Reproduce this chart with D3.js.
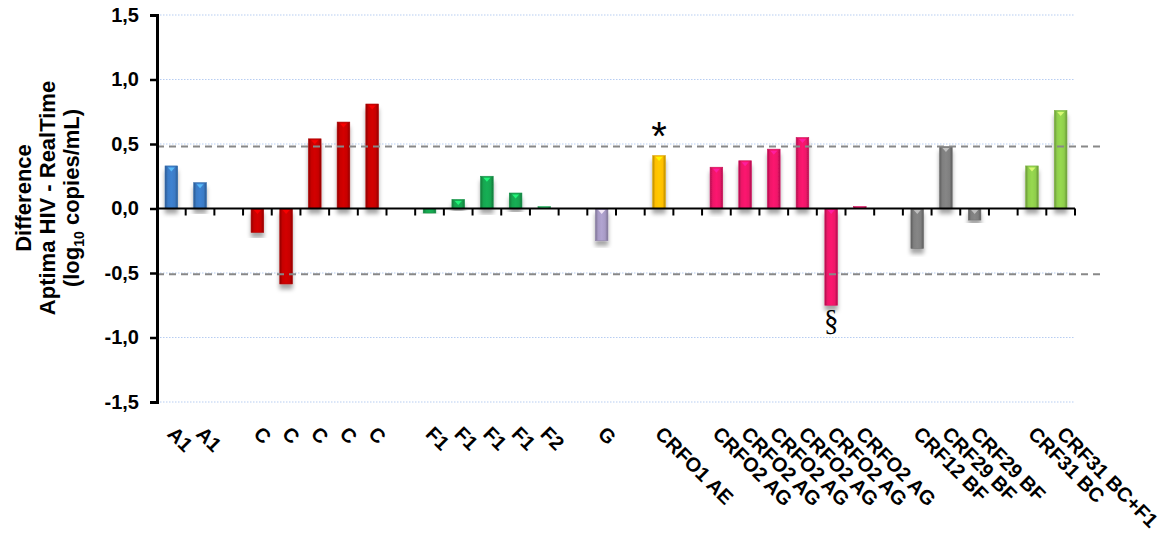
<!DOCTYPE html>
<html>
<head>
<meta charset="utf-8">
<script src="https://cdn.jsdelivr.net/npm/d3@7"></script>
<style>
  html, body { margin: 0; padding: 0; background: #fff; }
  svg { display: block; }
</style>
</head>
<body>
<svg id="chart" width="1165" height="535"></svg>
<script>
// Subtype of each sample; empty strings are spacer slots between subtype groups
const categories = [
  "A1", "A1", "",
  "C", "C", "C", "C", "C", "",
  "F1", "F1", "F1", "F1", "F2", "",
  "G", "",
  "CRFO1 AE", "",
  "CRFO2 AG", "CRFO2 AG", "CRFO2 AG", "CRFO2 AG", "CRFO2 AG", "CRFO2 AG", "",
  "CRF12 BF", "CRF29 BF", "CRF29 BF", "",
  "CRF31 BC", "CRF31 BC+F1"
];

// Difference Aptima HIV - RealTime (log10 copies/mL); null for spacer slots
const differences = [
  0.33, 0.20, null,
  -0.185, -0.585, 0.54, 0.67, 0.81, null,
  -0.035, 0.07, 0.25, 0.12, 0.015, null,
  -0.25, null,
  0.41, null,
  0.32, 0.37, 0.46, 0.55, -0.75, 0.015, null,
  -0.31, 0.48, -0.09, null,
  0.33, 0.76
];

// Bar colour per subtype
const subtypeColors = {
  "A1": "#3b7bc6",
  "C": "#c80000",
  "F1": "#17a650",
  "F2": "#2fc46c",
  "G": "#a89bc6",
  "CRFO1 AE": "#ffbf00",
  "CRFO2 AG": "#ef1469",
  "CRF12 BF": "#7f7f7f",
  "CRF29 BF": "#7f7f7f",
  "CRF31 BC": "#8fce4c",
  "CRF31 BC+F1": "#8fce4c"
};

const yTickValues = [1.5, 1.0, 0.5, 0.0, -0.5, -1.0, -1.5];
const yTickLabels = ["1,5", "1,0", "0,5", "0,0", "-0,5", "-1,0", "-1,5"];
const gridValues = [1.5, 1.0, 0.5, -0.5, -1.0, -1.5];
const referenceLines = [0.48, -0.51];

// Markers placed next to individual samples: slot index and symbol
const annotations = [
  { index: 17, symbol: "*" },
  { index: 23, symbol: "§" }
];

const svg = d3.select("#chart");
const plotLeft = 157, plotRight = 1075, plotTop = 15, plotBottom = 402;

const x = d3.scaleBand()
  .domain(d3.range(categories.length))
  .range([plotLeft, plotRight])
  .paddingInner(0.56)
  .paddingOuter(0.28);

const y = d3.scaleLinear().domain([-1.5, 1.5]).range([plotBottom, plotTop]);

const defs = svg.append("defs");

// soft drop shadow beneath each bar
const shadow = defs.append("filter").attr("id", "barShadow")
  .attr("x", "-50%").attr("y", "-20%").attr("width", "200%").attr("height", "140%");
shadow.append("feDropShadow")
  .attr("dx", 0).attr("dy", 5).attr("stdDeviation", 2)
  .attr("flood-color", "#000").attr("flood-opacity", 0.35);

// glossy horizontal gradient per subtype
const gradientId = {};
Object.entries(subtypeColors).forEach(([key, base], i) => {
  const id = "grad" + i;
  gradientId[key] = id;
  const c = d3.color(base);
  const g = defs.append("linearGradient").attr("id", id)
    .attr("x1", "0%").attr("x2", "100%").attr("y1", "0%").attr("y2", "0%");
  g.append("stop").attr("offset", "0%").attr("stop-color", c.darker(0.9));
  g.append("stop").attr("offset", "22%").attr("stop-color", c);
  g.append("stop").attr("offset", "50%").attr("stop-color", c.brighter(0.15));
  g.append("stop").attr("offset", "78%").attr("stop-color", c);
  g.append("stop").attr("offset", "100%").attr("stop-color", c.darker(0.9));
});

// dotted light-blue gridlines
svg.append("g").selectAll("line").data(gridValues).join("line")
  .attr("x1", plotLeft).attr("x2", plotRight)
  .attr("y1", d => y(d)).attr("y2", d => y(d))
  .attr("stroke", "#b7cdf2").attr("stroke-width", 1.2)
  .attr("stroke-dasharray", "1.5,1.5");

const bars = categories.map((c, i) => ({ c, v: differences[i], i }))
  .filter(d => d.v !== null);

// bars
const barG = svg.append("g");
barG.selectAll("rect").data(bars).join("rect")
  .attr("x", d => x(d.i))
  .attr("width", x.bandwidth())
  .attr("y", d => y(Math.max(0, d.v)))
  .attr("height", d => Math.max(1.5, Math.abs(y(d.v) - y(0))))
  .attr("fill", d => `url(#${gradientId[d.c]})`)
  .attr("stroke", d => d3.color(subtypeColors[d.c]).darker(0.4))
  .attr("stroke-width", 0.6)
  .attr("filter", "url(#barShadow)");

// small light notch at the top of each bar
barG.selectAll("path.notch").data(bars.filter(d => Math.abs(y(d.v) - y(0)) > 6)).join("path")
  .attr("class", "notch")
  .attr("d", d => {
    const cx = x(d.i) + x.bandwidth() / 2;
    const ty = y(Math.max(0, d.v)) + 1.5;
    return `M${cx - 3.5},${ty} L${cx + 3.5},${ty} L${cx},${ty + 4} Z`;
  })
  .attr("fill", d => d3.color(subtypeColors[d.c]).brighter(1.3))
  .attr("opacity", 0.85);

// dashed reference lines at roughly +/-0.5 log
svg.append("g").selectAll("line").data(referenceLines).join("line")
  .attr("x1", plotLeft).attr("x2", 1100)
  .attr("y1", d => y(d)).attr("y2", d => y(d))
  .attr("stroke", "#888").attr("stroke-width", 2)
  .attr("stroke-dasharray", "7,5");

// zero line with slot-boundary ticks
const zeroY = y(0);
const axisG = svg.append("g");
axisG.append("line")
  .attr("x1", plotLeft).attr("x2", plotRight)
  .attr("y1", zeroY).attr("y2", zeroY)
  .attr("stroke", "#000").attr("stroke-width", 2);
axisG.selectAll("line.tick").data(d3.range(1, categories.length + 1)).join("line")
  .attr("class", "tick")
  .attr("x1", k => plotLeft + k * x.step()).attr("x2", k => plotLeft + k * x.step())
  .attr("y1", zeroY).attr("y2", zeroY + 7)
  .attr("stroke", "#000").attr("stroke-width", 2);

// y axis
const yAxis = d3.axisLeft(y)
  .tickValues(yTickValues)
  .tickFormat((d, i) => yTickLabels[i])
  .tickSize(7)
  .tickPadding(11);
const yG = svg.append("g").attr("transform", `translate(${plotLeft},0)`).call(yAxis);
yG.select(".domain").attr("stroke", "#000").attr("stroke-width", 3);
yG.selectAll(".tick line").attr("stroke", "#000").attr("stroke-width", 2.5);
yG.selectAll(".tick text")
  .attr("fill", "#000")
  .style("font-family", "'Liberation Sans', Arial, sans-serif")
  .style("font-weight", "bold")
  .style("font-size", "20px");

// y axis title (three lines)
const title = svg.append("text")
  .attr("transform", "translate(0,198) rotate(-90)")
  .attr("text-anchor", "middle")
  .style("font-family", "'Liberation Sans', Arial, sans-serif")
  .style("font-weight", "bold")
  .style("font-size", "22px")
  .attr("fill", "#000");
title.append("tspan").attr("x", 0).attr("y", 31).text("Difference");
title.append("tspan").attr("x", 0).attr("y", 55).text("Aptima HIV - RealTime");
const t3 = title.append("tspan").attr("x", 0).attr("y", 79);
t3.append("tspan").text("(log");
t3.append("tspan").attr("dy", 5).style("font-size", "14px").text("10");
t3.append("tspan").attr("dy", -5).text(" copies/mL)");

// category labels, rotated 45 degrees
svg.append("g").selectAll("text")
  .data(categories.map((c, i) => ({ c, i })).filter(d => d.c !== ""))
  .join("text")
  .attr("transform", d => `translate(${x(d.i) + x.bandwidth() / 2 - 5},435) rotate(45)`)
  .attr("text-anchor", "start")
  .style("font-family", "'Liberation Sans', Arial, sans-serif")
  .style("font-weight", "bold")
  .style("font-size", "20px")
  .attr("fill", "#000")
  .text(d => d.c);

// annotation symbols
svg.append("g").selectAll("text").data(annotations).join("text")
  .attr("x", d => x(d.index) + x.bandwidth() / 2)
  .attr("y", d => differences[d.index] >= 0 ? y(differences[d.index]) - 6 : y(differences[d.index]) + 25)
  .attr("text-anchor", "middle")
  .style("font-family", d => d.symbol === "§" ? "'Liberation Serif', 'Times New Roman', serif" : "'Liberation Sans', Arial, sans-serif")
  .style("font-size", d => d.symbol === "§" ? "29px" : "40px")
  .attr("fill", "#000")
  .text(d => d.symbol);
</script>
</body>
</html>
